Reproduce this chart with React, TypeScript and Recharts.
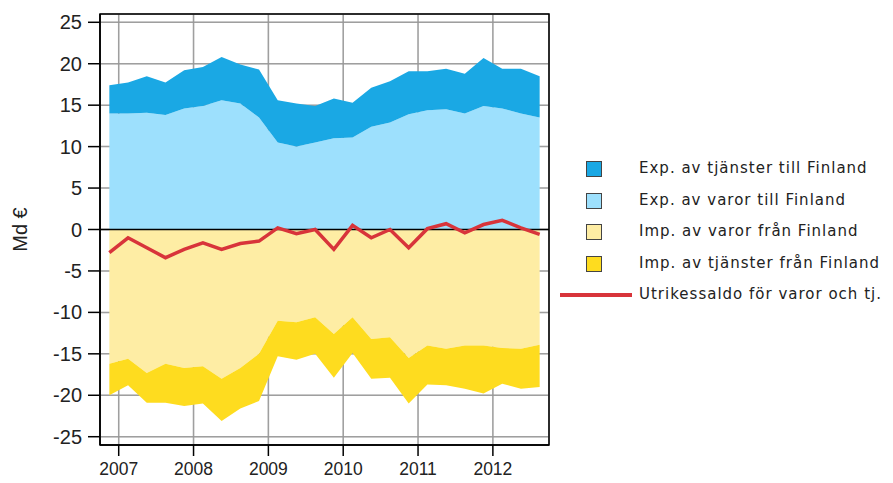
import {
  ComposedChart, Area, Line, XAxis, YAxis, CartesianGrid, ReferenceLine, ReferenceArea,
} from 'recharts'

// Quarterly values, Q4 2006 – Q3 2012 (Md €)
const quarters = [
  '2006Q4',
  '2007Q1', '2007Q2', '2007Q3', '2007Q4',
  '2008Q1', '2008Q2', '2008Q3', '2008Q4',
  '2009Q1', '2009Q2', '2009Q3', '2009Q4',
  '2010Q1', '2010Q2', '2010Q3', '2010Q4',
  '2011Q1', '2011Q2', '2011Q3', '2011Q4',
  '2012Q1', '2012Q2', '2012Q3',
]
const expVaror = [
  14.0, 14.0, 14.1, 13.8, 14.6, 14.9, 15.6, 15.2, 13.5, 10.5, 10.0, 10.5,
  11.0, 11.1, 12.4, 12.9, 13.9, 14.4, 14.5, 14.0, 14.9, 14.6, 14.0, 13.5,
]
const expTjanster = [
  3.4, 3.75, 4.4, 3.95, 4.6, 4.7, 5.2, 4.7, 5.8, 5.1, 5.2, 4.4,
  4.8, 4.2, 4.7, 5.0, 5.2, 4.7, 4.9, 4.8, 5.8, 4.8, 5.4, 5.0,
]
const impVaror = [
  -16.2, -15.6, -17.3, -16.2, -16.7, -16.5, -18.0, -16.7, -15.0, -11.0, -11.2, -10.6,
  -12.6, -10.6, -13.2, -13.0, -15.5, -14.0, -14.4, -14.0, -14.0, -14.3, -14.4, -13.9,
]
const impTjanster = [
  -3.8, -3.2, -3.6, -4.7, -4.6, -4.5, -5.1, -4.9, -5.7, -4.3, -4.5, -4.4,
  -5.3, -4.3, -4.8, -4.9, -5.5, -4.7, -4.4, -5.2, -5.8, -4.3, -4.8, -5.1,
]
const saldo = [
  -2.8, -1.0, -2.2, -3.4, -2.4, -1.6, -2.4, -1.7, -1.4, 0.2, -0.5, 0.0,
  -2.4, 0.5, -1.0, 0.0, -2.2, 0.1, 0.7, -0.4, 0.6, 1.1, 0.2, -0.6,
]
const yTicks = [-25, -20, -15, -10, -5, 0, 5, 10, 15, 20, 25]

const C_EXP_TJ = '#1AA8E4'
const C_EXP_VA = '#9DE0FD'
const C_IMP_VA = '#FEEDA4'
const C_IMP_TJ = '#FEDC1F'
const C_SALDO = '#D8343A'

const data = quarters.map((q, i) => ({
  i,
  q,
  expVaror: expVaror[i],
  expTjanster: expTjanster[i],
  impVaror: impVaror[i],
  impTjanster: impTjanster[i],
  saldo: saldo[i],
}))

// year ticks sit between Q4 and Q1
const yearTicks = quarters
  .map((q, i) => (q.endsWith('Q1') ? i - 0.5 : null))
  .filter((v): v is number => v !== null)
const yearLabel = (v: number) => quarters[Math.round(v + 0.5)]?.slice(0, 4) ?? ''

const legendItems = [
  { label: 'Exp. av tjänster till Finland', color: C_EXP_TJ },
  { label: 'Exp. av varor till Finland', color: C_EXP_VA },
  { label: 'Imp. av varor från Finland', color: C_IMP_VA },
  { label: 'Imp. av tjänster från Finland', color: C_IMP_TJ },
]

const FONT = '"Liberation Sans", Arial, sans-serif'

export default function App() {
  return (
    <div style={{ position: 'absolute', left: 0, top: 0, width: 893, height: 483, background: '#fff' }}>
      <ComposedChart
        width={893}
        height={483}
        data={data}
        stackOffset="sign"
        margin={{ top: 14, right: 344, bottom: 0, left: 0 }}
      >
        <CartesianGrid stroke="#a8a8a8" strokeWidth={1.5} />
        <XAxis
          dataKey="i"
          type="number"
          domain={[-0.5, 23.5]}
          ticks={yearTicks}
          tickFormatter={yearLabel}
          tick={{ fontSize: 17.5, fill: '#222', fontFamily: FONT }}
          tickSize={11}
          tickMargin={7}
          axisLine={{ stroke: '#000', strokeWidth: 1.5 }}
          tickLine={{ stroke: '#000', strokeWidth: 1.5 }}
          height={38}
        />
        <YAxis
          type="number"
          domain={[-26, 26]}
          ticks={yTicks}
          tick={{ fontSize: 20, fill: '#222', fontFamily: FONT }}
          tickSize={12}
          tickMargin={6}
          width={100}
          axisLine={{ stroke: '#000', strokeWidth: 1.5 }}
          tickLine={{ stroke: '#000', strokeWidth: 1.5 }}
          label={{
            value: 'Md €', angle: -90, position: 'insideLeft', offset: 20,
            fontSize: 20, fill: '#222', fontFamily: FONT,
            style: { textAnchor: 'middle', fontSize: 20, fontFamily: FONT },
          }}
        />
        <Area type="linear" dataKey="expVaror" stackId="s" fill={C_EXP_VA} fillOpacity={1} stroke="none" isAnimationActive={false} />
        <Area type="linear" dataKey="expTjanster" stackId="s" fill={C_EXP_TJ} fillOpacity={1} stroke="none" isAnimationActive={false} />
        <Area type="linear" dataKey="impVaror" stackId="s" fill={C_IMP_VA} fillOpacity={1} stroke="none" isAnimationActive={false} />
        <Area type="linear" dataKey="impTjanster" stackId="s" fill={C_IMP_TJ} fillOpacity={1} stroke="none" isAnimationActive={false} />
        <CartesianGrid stroke="#808080" strokeOpacity={0.22} strokeWidth={1.5} />
        <ReferenceLine y={0} stroke="#000" strokeWidth={1.5} />
        <Line
          type="linear"
          dataKey="saldo"
          stroke={C_SALDO}
          strokeWidth={3.5}
          dot={false}
          isAnimationActive={false}
        />
        <ReferenceArea x1={-0.5} x2={23.5} y1={-26} y2={26} fill="none" stroke="#000" strokeWidth={1.5} ifOverflow="visible" />
      </ComposedChart>

      <div style={{ position: 'absolute', left: 560, top: 159, fontFamily: '"DejaVu Sans", Verdana, sans-serif', fontSize: 15, letterSpacing: 1.0, color: '#222' }}>
        {legendItems.map((it, k) => (
          <div key={it.label} style={{ position: 'absolute', top: k * 31.5, left: 0, width: 340, height: 22 }}>
            <span style={{
              position: 'absolute', left: 26, top: 2, width: 14, height: 14,
              background: it.color, border: '1.5px solid #444',
            }} />
            <span style={{ position: 'absolute', left: 79, top: 0, whiteSpace: 'nowrap' }}>{it.label}</span>
          </div>
        ))}
        <div style={{ position: 'absolute', top: 126, left: 0, width: 340, height: 22 }}>
          <span style={{ position: 'absolute', left: 0, top: 8, width: 72, height: 4, background: C_SALDO }} />
          <span style={{ position: 'absolute', left: 79, top: 0, whiteSpace: 'nowrap' }}>Utrikessaldo för varor och tj.</span>
        </div>
      </div>
    </div>
  )
}
